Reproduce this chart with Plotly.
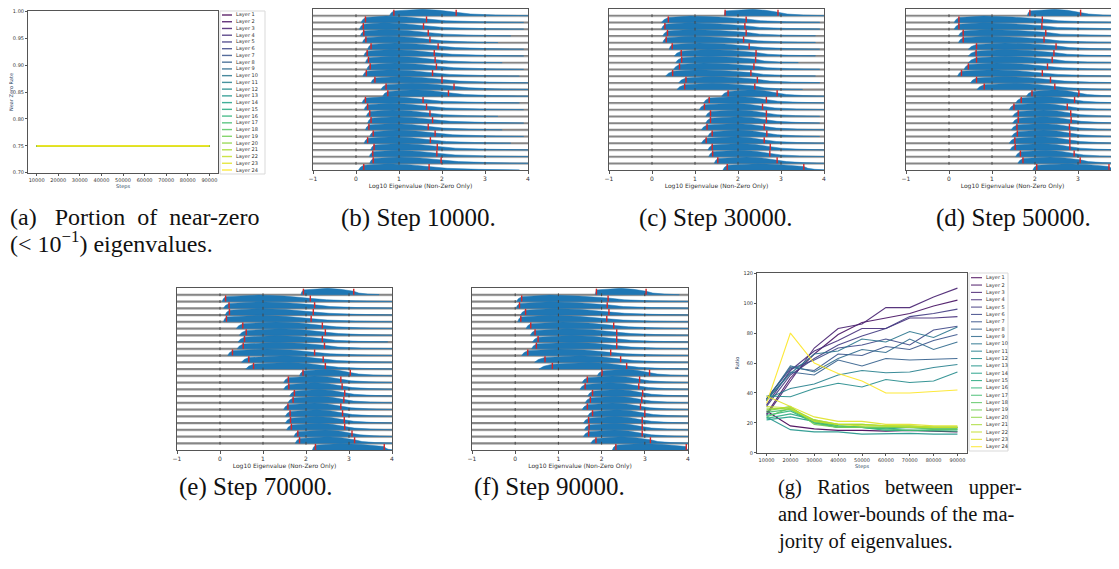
import plotly.graph_objects as go
from plotly.colors import sample_colorscale

# the page body adds an 8px margin, so the figure is drawn 8px in from the window's corner
OFF = 8
W, H = 1119 - OFF, 569 - OFF

# ---------------- data ----------------
steps = [10000, 20000, 30000, 40000, 50000, 60000, 70000, 80000, 90000]
step_labels = ["10000", "20000", "30000", "40000", "50000", "60000", "70000", "80000", "90000"]
layers = [f"Layer {i}" for i in range(1, 25)]
near_zero_rate = [0.75, 0.75, 0.75, 0.75, 0.75, 0.75, 0.75, 0.75, 0.75]  # identical for every layer

ratio_by_layer = [
    [28, 18, 16, 15, 15, 14.5, 15, 14.5, 14],
    [26, 50, 66, 79, 87, 90, 93, 98, 102],
    [25, 48, 70, 83, 86, 97, 97, 104, 110],
    [32, 55, 68, 75, 83, 83, 90, 90, 91],
    [31, 52, 63, 72, 78, 83, 91, 93, 96],
    [36, 56, 62, 70, 72, 76, 72, 82, 84.5],
    [36, 57, 55, 66, 65, 71, 69, 75, 79],
    [35, 54, 52, 62, 58, 63, 62, 62.5, 63],
    [35, 58, 54, 63, 69, 67, 76, 69, 74],
    [35, 53, 66, 68, 76, 74, 81, 77, 84],
    [36, 43, 46, 52, 55, 53.5, 54, 57, 59],
    [38, 37.5, 43, 46.5, 44, 49, 47, 48, 54],
    [24, 15.5, 14, 14, 12.5, 13, 13, 12.5, 12.5],
    [22, 24, 21, 17, 17, 16, 17, 16, 16],
    [23, 26, 22, 18, 17, 17, 17, 17, 17],
    [25, 28, 20, 17, 17, 15, 15, 15, 14.5],
    [27, 29, 20, 17, 17, 16, 15, 15.5, 15.5],
    [24, 30, 21, 18, 17, 17, 17, 17, 17],
    [28, 31, 19, 17, 17, 17, 17, 16, 16],
    [29, 30, 22, 19, 19, 18, 18, 17, 17],
    [30, 29, 22, 19, 19, 18, 17, 17, 17],
    [31, 30, 21, 19, 18, 18, 18, 17, 17],
    [38, 31, 24, 21, 21, 19, 19, 18, 18],
    [33, 80, 60, 53, 48, 40, 40, 41, 42],
]

# per-step eigenvalue distributions (log10), one entry per layer, top row = Layer 1
b_lo = [0.88,0.22,0.17,0.18,0.23,0.35,0.26,0.29,0.33,0.24,0.44,0.70,0.74,0.22,0.27,0.32,0.35,0.30,0.40,0.27,0.42,0.39,0.40,0.18]
b_hi = [2.33,1.64,1.57,1.68,1.72,1.91,1.82,1.84,1.87,1.78,2.00,2.28,2.15,1.56,1.64,1.72,1.78,1.68,1.84,1.73,1.89,1.88,1.98,1.70]
b_start = [0.78,0.12,0.08,0.10,0.15,0.27,0.18,0.22,0.25,0.16,0.35,0.58,0.62,0.14,0.19,0.24,0.27,0.22,0.32,0.19,0.34,0.31,0.32,0.06]
b_peak = [1.55,0.70,0.65,0.70,0.75,0.90,0.80,0.85,0.90,0.80,1.00,1.30,1.35,0.75,0.80,0.85,0.90,0.85,0.95,0.85,1.00,0.95,1.00,0.75]
b_end = [4.0,3.9,3.9,3.6,3.3,3.9,3.9,3.4,3.9,3.8,4.0,4.0,4.0,3.8,3.9,3.3,3.9,3.4,3.9,3.6,4.0,4.0,4.0,3.8]

c_lo = [1.70,0.38,0.30,0.36,0.33,0.47,0.68,0.69,0.64,0.48,0.79,0.76,1.77,1.33,1.22,1.36,1.36,1.28,1.40,1.26,1.40,1.41,1.53,1.75]
c_hi = [2.93,2.19,2.16,2.19,2.13,2.26,2.42,2.41,2.37,2.30,2.45,2.39,2.91,2.66,2.57,2.66,2.66,2.61,2.67,2.61,2.75,2.74,2.91,3.53]
c_start = [1.68,0.22,0.22,0.25,0.25,0.40,0.52,0.55,0.50,0.32,0.62,0.58,1.62,1.20,1.10,1.25,1.25,1.15,1.30,1.15,1.30,1.32,1.45,1.65]
c_peak = [2.35,0.9,0.85,0.9,0.9,1.1,1.3,1.3,1.2,1.1,1.4,1.4,2.3,2.0,1.9,2.0,2.0,1.95,2.0,1.95,2.05,2.05,2.2,2.45]
c_end = [4.0,3.9,3.9,3.8,3.8,3.9,3.8,3.4,3.9,3.8,3.9,3.5,4.0,4.0,4.0,3.9,3.9,4.0,3.9,4.0,4.0,4.0,4.0,4.0]

d_lo = [1.88,0.23,0.23,0.33,0.33,0.64,0.63,0.64,0.45,0.29,0.64,0.82,1.93,1.68,1.51,1.61,1.61,1.58,1.59,1.53,1.54,1.66,1.72,2.04]
d_hi = [3.06,2.17,2.16,2.25,2.21,2.49,2.44,2.40,2.29,2.17,2.36,2.46,3.02,2.92,2.75,2.83,2.84,2.80,2.81,2.81,2.81,2.91,3.05,3.72]
d_start = [1.82,0.12,0.12,0.22,0.22,0.45,0.45,0.45,0.35,0.20,0.50,0.65,1.80,1.55,1.40,1.48,1.48,1.45,1.46,1.40,1.42,1.55,1.60,1.95]
d_peak = [2.45,0.8,0.8,0.9,0.9,1.3,1.3,1.3,1.1,1.0,1.3,1.5,2.45,2.2,2.1,2.2,2.2,2.15,2.2,2.15,2.15,2.25,2.35,2.75]
d_end = [4.0,4.0,4.0,4.0,4.0,4.0,4.0,3.9,4.0,4.0,4.0,4.0,4.0,4.0,4.0,4.0,4.0,4.0,4.0,4.0,4.0,4.0,4.0,4.0]

e_lo = [1.94,0.13,0.21,0.22,0.15,0.53,0.61,0.57,0.54,0.29,0.67,0.78,1.93,1.59,1.60,1.73,1.70,1.58,1.63,1.64,1.66,1.81,1.85,2.22]
e_hi = [3.11,2.10,2.20,2.17,2.12,2.38,2.45,2.38,2.43,2.20,2.40,2.45,3.03,2.81,2.84,2.90,2.88,2.81,2.85,2.89,2.90,3.07,3.13,3.82]
e_start = [1.88,0.05,0.08,0.12,0.08,0.38,0.45,0.42,0.40,0.18,0.50,0.60,1.85,1.48,1.48,1.62,1.58,1.48,1.52,1.52,1.55,1.72,1.75,2.15]
e_peak = [2.5,0.9,0.9,0.9,0.9,1.3,1.4,1.3,1.3,1.1,1.5,1.6,2.45,2.2,2.2,2.3,2.3,2.2,2.25,2.25,2.3,2.45,2.5,2.8]
e_end = [3.7,4.0,4.0,4.0,4.0,4.0,4.0,3.9,4.0,4.0,4.0,4.0,4.0,4.0,4.0,4.0,4.0,4.0,4.0,4.0,4.0,4.0,4.0,4.0]

f_lo = [1.88,0.15,0.10,0.24,0.13,0.36,0.46,0.53,0.49,0.29,0.69,0.86,2.01,1.67,1.62,1.79,1.74,1.67,1.79,1.70,1.71,1.70,1.87,2.33]
f_hi = [3.03,2.15,2.13,2.17,2.12,2.28,2.35,2.35,2.35,2.21,2.44,2.58,3.11,2.88,2.86,2.95,2.93,2.90,3.00,2.94,2.94,2.94,3.13,3.96]
f_start = [1.85,0.03,0.02,0.12,0.06,0.25,0.35,0.40,0.38,0.15,0.45,0.55,1.90,1.55,1.50,1.68,1.62,1.55,1.68,1.58,1.60,1.58,1.75,2.25]
f_peak = [2.45,0.8,0.8,0.9,0.8,1.1,1.2,1.3,1.3,1.0,1.5,1.7,2.5,2.25,2.2,2.35,2.3,2.25,2.35,2.3,2.3,2.3,2.45,2.9]
f_end = [3.8,4.0,4.0,4.0,4.0,4.0,4.0,4.0,4.0,4.0,4.0,4.0,4.0,4.0,4.0,4.0,4.0,4.0,4.0,4.0,4.0,4.0,4.0,4.0]

ridge_ticks = [-1, 0, 1, 2, 3, 4]
ridge_ticktext = ["\u22121", "0", "1", "2", "3", "4"]
rate_ticks = [0.70, 0.75, 0.80, 0.85, 0.90, 0.95, 1.00]
rate_labels = ["0.70", "0.75", "0.80", "0.85", "0.90", "0.95", "1.00"]
ratio_ticks = [0, 20, 40, 60, 80, 100, 120]

# ---------------- helpers (window pixels -> paper fractions) ----------------
def px(x):
    return (x - OFF) / W

def py(y):
    return 1 - (y - OFF) / H

colors = sample_colorscale("Viridis", [i / 23 for i in range(24)])
SANS = "DejaVu Sans"
SERIF = "Liberation Serif"
AXC = "#555555"

fig = go.Figure()
annotations = []
shapes = []

# ---------- panel (a) ----------
for i, name in enumerate(layers):
    fig.add_trace(go.Scatter(x=steps, y=near_zero_rate, mode="lines", name=name,
                             line=dict(color=colors[i], width=1.3), opacity=0.85,
                             xaxis="x", yaxis="y", showlegend=False, hoverinfo="skip"))

# ---------- ridge panels ----------
ridge_panels = [
    ("2", b_lo, b_hi, b_start, b_peak, b_end),
    ("3", c_lo, c_hi, c_start, c_peak, c_end),
    ("4", d_lo, d_hi, d_start, d_peak, d_end),
    ("5", e_lo, e_hi, e_start, e_peak, e_end),
    ("6", f_lo, f_hi, f_start, f_peak, f_end),
]
n = len(layers)
for ax, lo, hi, st, pk, en in ridge_panels:
    fx, fy = [], []
    rx, ry = [], []
    gx, gy = [], []
    lx, ly = [], []
    tx, ty = [], []
    for i in range(n):
        base = n - 1 - i
        s, l, p, h, e = st[i], lo[i], pk[i], hi[i], en[i]
        xs = [s, s + 0.35 * (l - s), l, p, (p + h) / 2, h,
              h + 0.2 * (e - h), h + 0.55 * (e - h), e, e, s]
        hs = [0, 0.4, 0.72, 0.95, 0.8, 0.52, 0.25, 0.1, 0.03, 0, 0]
        fx += xs + [None]
        fy += [base + v for v in hs] + [None]
        for v in (l, h):
            rx += [v, v, None]
            ry += [base, base + 0.9, None]
    for k in range(1, n):
        gx += [-1, 4, None]
        gy += [k, k, None]
        lx += [-1, 4, None]
        ly += [k - 0.16, k - 0.16, None]
        for t in (0, 1, 2, 3):
            tx.append(t)
            ty.append(k)
    fig.add_trace(go.Scatter(x=lx, y=ly, mode="lines", line=dict(color="#d0d0d0", width=1),
                             xaxis="x" + ax, yaxis="y" + ax, showlegend=False, hoverinfo="skip"))
    fig.add_trace(go.Scatter(x=gx, y=gy, mode="lines", line=dict(color="#868686", width=1.8),
                             xaxis="x" + ax, yaxis="y" + ax, showlegend=False, hoverinfo="skip"))
    fig.add_trace(go.Scatter(x=fx, y=fy, mode="lines", fill="toself", fillcolor="#1f77b4",
                             line=dict(color="#1f77b4", width=0.5),
                             xaxis="x" + ax, yaxis="y" + ax, showlegend=False, hoverinfo="skip"))
    fig.add_trace(go.Scatter(x=tx, y=ty, mode="markers",
                             marker=dict(symbol="line-ns", size=2, line=dict(color="#444", width=1)),
                             xaxis="x" + ax, yaxis="y" + ax, showlegend=False, hoverinfo="skip"))
    fig.add_trace(go.Scatter(x=rx, y=ry, mode="lines", line=dict(color="#d62728", width=1.4),
                             xaxis="x" + ax, yaxis="y" + ax, showlegend=False, hoverinfo="skip"))

# ---------- panel (g) ----------
for i, name in enumerate(layers):
    fig.add_trace(go.Scatter(x=steps, y=ratio_by_layer[i], mode="lines", name=name,
                             line=dict(color=colors[i], width=1.1), opacity=0.9,
                             xaxis="x7", yaxis="y7", showlegend=False, hoverinfo="skip"))

# ---------------- axes ----------------
tickfont = dict(family=SANS, size=5, color="#333")

def frame_axis(**kw):
    d = dict(showline=True, linecolor=AXC, linewidth=1, mirror=True, showgrid=False,
             zeroline=False, ticks="outside", ticklen=2, tickcolor=AXC, tickfont=tickfont,
             automargin=False)
    d.update(kw)
    return d

layout = dict(width=W, height=H, margin=dict(l=0, r=0, t=0, b=0, autoexpand=False),
              plot_bgcolor="white", paper_bgcolor="white", showlegend=False)

# (a)
layout["xaxis"] = frame_axis(domain=[px(28), px(218)], anchor="y", range=[6000, 94000],
                             tickvals=steps, ticktext=step_labels,
                             title=dict(text="Steps", font=dict(family=SANS, size=5), standoff=2))
layout["yaxis"] = frame_axis(domain=[py(173), py(11)], anchor="x", range=[0.6995, 1.0005],
                             tickvals=rate_ticks, ticktext=rate_labels,
                             title=dict(text="Near Zero Rate", font=dict(family=SANS, size=5), standoff=3))

ridge_boxes = {
    "2": (313, 528, 9, 170, [-1, 4]),
    "3": (609, 824, 9, 170, [-1, 4]),
    "4": (906, 1119, 9, 170, [-1, 3.953]),
    "5": (177, 392, 288, 450, [-1, 4]),
    "6": (472, 688, 288, 450, [-1, 4]),
}
for ax, (x0, x1, y0, y1, rng) in ridge_boxes.items():
    layout["xaxis" + ax] = frame_axis(domain=[px(x0), px(x1)], anchor="y" + ax, range=rng,
                                      tickvals=ridge_ticks, ticktext=ridge_ticktext, ticklen=3,
                                      tickfont=dict(family=SANS, size=6, color="#333"),
                                      title=dict(text="Log10 Eigenvalue (Non-Zero Only)",
                                                 font=dict(family=SANS, size=6, color="#333"), standoff=1))
    layout["yaxis" + ax] = frame_axis(domain=[py(y1), py(y0)], anchor="x" + ax, range=[0, 24],
                                      showticklabels=False, ticks="")

# (g)
layout["xaxis7"] = frame_axis(domain=[px(757), px(967)], anchor="y7", range=[6000, 94000],
                              tickvals=steps, ticktext=step_labels,
                              title=dict(text="Steps", font=dict(family=SANS, size=5), standoff=2))
layout["yaxis7"] = frame_axis(domain=[py(453), py(273)], anchor="x7", range=[-0.1, 120.1],
                              tickvals=ratio_ticks,
                              title=dict(text="Ratio", font=dict(family=SANS, size=5), standoff=3))

# ---------------- manual legends ----------------
def legend(box_x0, box_x1, box_y0, box_y1, first_y, step, line_x0, line_x1, text_x, lw):
    shapes.append(dict(type="rect", xref="paper", yref="paper",
                       x0=px(box_x0), x1=px(box_x1), y0=py(box_y1), y1=py(box_y0),
                       line=dict(color="#d9d9d9", width=1), fillcolor="white", layer="below"))
    for i, name in enumerate(layers):
        yy = first_y + i * step
        shapes.append(dict(type="line", xref="paper", yref="paper",
                           x0=px(line_x0), x1=px(line_x1), y0=py(yy), y1=py(yy),
                           line=dict(color=colors[i], width=lw), opacity=0.85))
        annotations.append(dict(xref="paper", yref="paper", x=px(text_x), y=py(yy), text=name,
                                showarrow=False, xanchor="left", yanchor="middle",
                                font=dict(family=SANS, size=5, color="#333")))

legend(220, 265, 11, 174, 15, (170 - 15) / 23, 222, 232, 234, 1.4)
legend(969, 1008, 273, 451, 277.7, (446.7 - 277.7) / 23, 971, 982, 984, 1.1)

# ---------------- captions ----------------
cap_font = dict(family=SERIF, size=25, color="#111")
a_font = dict(family=SERIF, size=24, color="#111")
g_font = dict(family=SERIF, size=20.5, color="#111")
captions = [
    (8, 217, "(a)\u2002 Portion\u2002of\u2002near-zero", a_font),
    (8, 242, "(< 10<sup>\u22121</sup>) eigenvalues.", a_font),
    (339, 218, "(b) Step 10000.", cap_font),
    (637, 218, "(c) Step 30000.", cap_font),
    (934, 218, "(d) Step 50000.", cap_font),
    (177, 487, "(e) Step 70000.", cap_font),
    (472, 487, "(f) Step 90000.", cap_font),
    (776, 487, "(g)\u2002 Ratios\u2002 between\u2002 upper-", g_font),
    (776, 514, "and lower-bounds of the ma-", g_font),
    (776, 541, "jority of eigenvalues.", g_font),
]
for x, y, t, f in captions:
    annotations.append(dict(xref="paper", yref="paper", x=px(x), y=py(y), text=t,
                            showarrow=False, xanchor="left", yanchor="middle", font=f))

layout["annotations"] = annotations
layout["shapes"] = shapes
fig.update_layout(**layout)

fig.write_html("out.html")
